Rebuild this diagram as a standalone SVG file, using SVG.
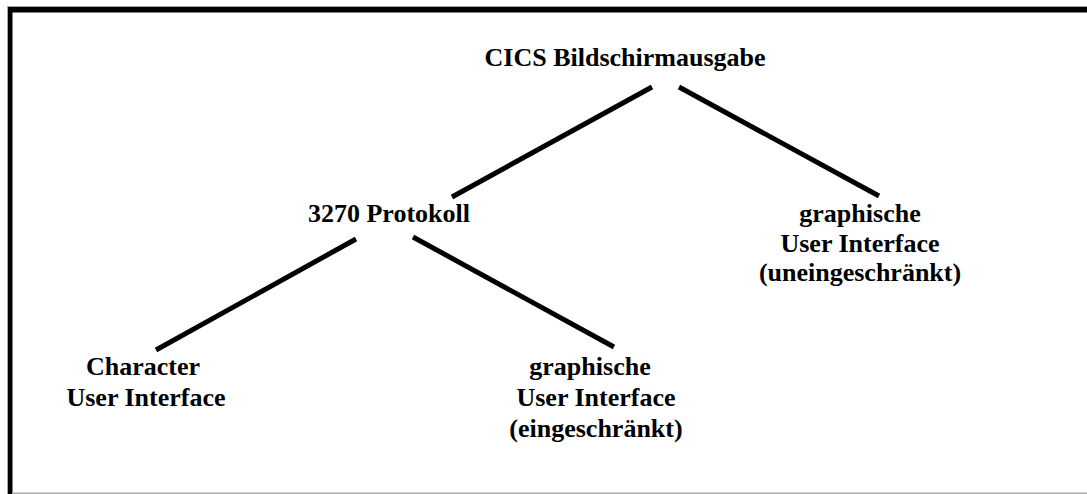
<svg xmlns="http://www.w3.org/2000/svg" width="1087" height="494" viewBox="0 0 1087 494">
<style>
.t{font-family:"Liberation Serif","Times New Roman",serif;font-weight:bold;font-size:26px;fill:#000;text-anchor:middle}
.c{stroke:#000;stroke-width:5;fill:none}
</style>
<rect x="0" y="0" width="1087" height="494" fill="#fff"/>
<g id="frame">
<rect x="7" y="6" width="1080" height="1" fill="#a8a8a8"/>
<rect x="7" y="6" width="1" height="488" fill="#a8a8a8"/>
<rect x="8" y="7" width="1079" height="5.5" fill="#000"/>
<rect x="8" y="7" width="4.5" height="487" fill="#000"/>
<rect x="12" y="492.5" width="1075" height="1.5" fill="#a8a8a8"/>
</g>
<g id="connectors">
<line class="c" x1="652" y1="87" x2="452" y2="197"/>
<line class="c" x1="679" y1="87" x2="879" y2="196"/>
<line class="c" x1="356" y1="239" x2="156" y2="350"/>
<line class="c" x1="413" y1="237" x2="614" y2="347"/>
</g>
<g id="root"><text class="t" x="625" y="66">CICS Bildschirmausgabe</text></g>
<g id="protokoll"><text class="t" x="389" y="222">3270 Protokoll</text></g>
<g id="gui-unrestricted">
<text class="t" x="860" y="222">graphische</text>
<text class="t" x="860" y="252">User Interface</text>
<text class="t" x="860" y="281">(uneingeschränkt)</text>
</g>
<g id="cui">
<text class="t" x="143" y="375">Character</text>
<text class="t" x="146" y="406">User Interface</text>
</g>
<g id="gui-restricted">
<text class="t" x="590" y="375">graphische</text>
<text class="t" x="596" y="406">User Interface</text>
<text class="t" x="596" y="437">(eingeschränkt)</text>
</g>
</svg>
